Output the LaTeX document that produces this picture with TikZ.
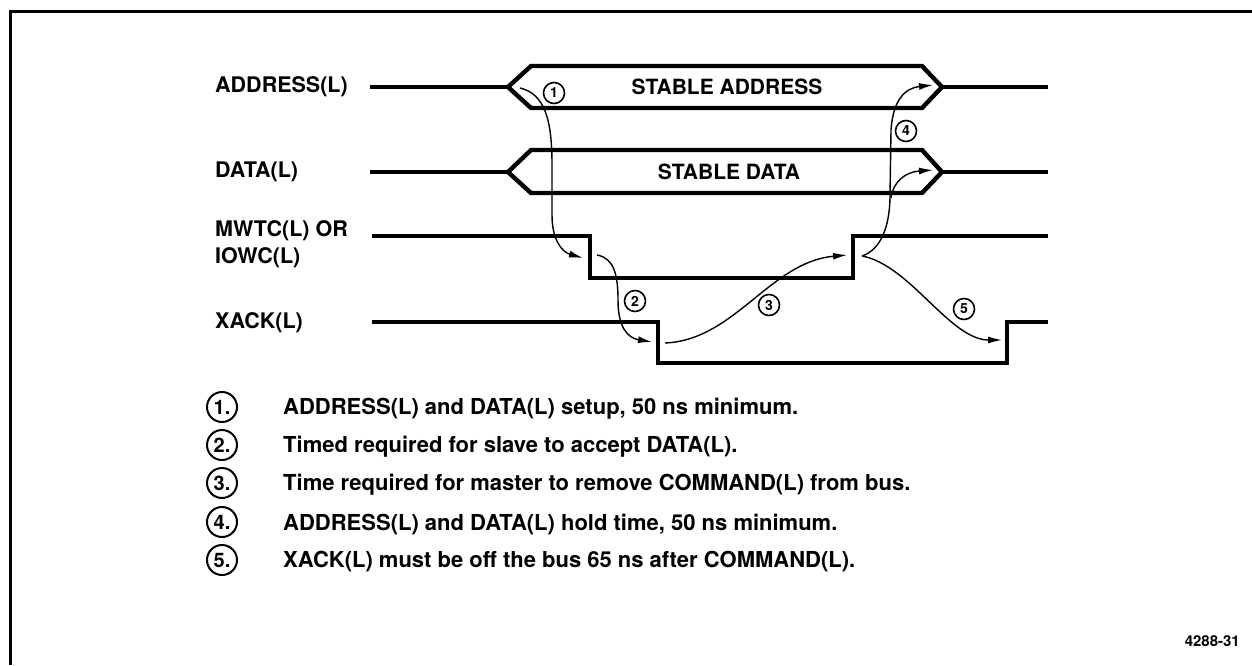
\documentclass[tikz,border=0pt]{standalone}
\usepackage{fontspec}
\setmainfont{TeX Gyre Heros}
\usetikzlibrary{arrows.meta}
\begin{document}
\begin{tikzpicture}[x=1pt,y=-1pt,
  sig/.style={line width=4.4pt, line join=miter, line cap=butt},
  arr/.style={line width=1.4pt, -{Latex[length=14pt,width=7pt]}},
  lbl/.style={font=\fontsize{21.5}{24}\selectfont\bfseries, anchor=west, inner sep=0pt},
  bustxt/.style={font=\fontsize{21}{24}\selectfont\bfseries, inner sep=0pt},
  num/.style={circle, draw, line width=1.6pt, inner sep=0pt, minimum size=21pt, font=\fontsize{14}{14}\selectfont\bfseries},
  lnum/.style={circle, draw, line width=2pt, inner sep=0pt, minimum size=30pt, font=\fontsize{20}{20}\selectfont\bfseries},
  legtxt/.style={font=\fontsize{22}{24}\selectfont\bfseries, anchor=west, inner sep=0pt},
]
\useasboundingbox (0,0) rectangle (1252,665);
% frame
\draw[line width=3pt] (10,665) -- (10,11) -- (1252,11);

% signal labels
\node[lbl] (lA) at (215,87) {ADDRESS(L)};
\node[lbl] (lD) at (215,172) {DATA(L)};
\node[lbl] (lM) at (215,231) {MWTC(L) OR};
\node[lbl] (lI) at (215,258) {IOWC(L)};
\node[lbl] (lX) at (215,323) {XACK(L)};

% ADDRESS bus
\draw[sig] (370,87) -- (508,87);
\draw[sig] (508,87) -- (531,66) -- (922,66) -- (942,87) -- (922,108) -- (531,108) -- cycle;
\draw[sig] (942,87) -- (1048,87);
\node[bustxt] (sA) at (727,87) {STABLE ADDRESS};

% DATA bus
\draw[sig] (370,172) -- (508,172);
\draw[sig] (508,172) -- (531,150) -- (922,150) -- (942,172) -- (922,193) -- (531,193) -- cycle;
\draw[sig] (942,172) -- (1048,172);
\node[bustxt] (sD) at (729,172) {STABLE DATA};

% MWTC / IOWC
\draw[sig] (372,236) -- (590,236) -- (590,278) -- (853,278) -- (853,236) -- (1048,236);
% XACK
\draw[sig] (372,322) -- (658,322) -- (658,363) -- (1007,363) -- (1007,322) -- (1048,322);

% arrow end points
\coordinate (a1s) at (520,88);
\coordinate (a1e) at (583,258);
\coordinate (a2s) at (597,255);
\coordinate (a2e) at (652,342);
\coordinate (a3s) at (665,343);
\coordinate (a3e) at (847,255);
\coordinate (a4s) at (862,256);
\coordinate (a4e) at (933,85);
\coordinate (a4b) at (891,198);
\coordinate (a4f) at (933,170);
\coordinate (a5e) at (1002,340);

% arrows
\draw[arr] (a1s) .. controls (545,94) and (552,120) .. (552,165) -- (552,215) .. controls (552,240) and (562,252) .. (a1e);
\draw[arr] (a2s) .. controls (614,258) and (618,275) .. (618,300) .. controls (618,328) and (628,338) .. (a2e);
\draw[arr] (a3s) .. controls (735,340) and (770,262) .. (a3e);
\draw[arr] (a4s) .. controls (880,250) and (890,228) .. (890,195) -- (891,130) .. controls (893,100) and (905,88) .. (a4e);
\draw[arr] (a4b) .. controls (893,182) and (905,172) .. (a4f);
\draw[arr] (a4s) .. controls (910,265) and (950,340) .. (a5e);

% small circled numbers
\node[num] (c1) at (554,93) {1};
\node[num] (c2) at (635,301) {2};
\node[num] (c3) at (769,305) {3};
\node[num] (c4) at (906,131) {4};
\node[num] (c5) at (964,309) {5};

% legend
\node[lnum] (n1) at (222,407) {1.};
\node[lnum] (n2) at (222,445) {2.};
\node[lnum] (n3) at (222,483) {3.};
\node[lnum] (n4) at (222,522) {4.};
\node[lnum] (n5) at (222,560) {5.};
\node[legtxt] (t1) at (283,409) {ADDRESS(L) and DATA(L) setup, 50 ns minimum.};
\node[legtxt] (t2) at (283,447) {Timed required for slave to accept DATA(L).};
\node[legtxt] (t3) at (283,485) {Time required for master to remove COMMAND(L) from bus.};
\node[legtxt] (t4) at (283,524) {ADDRESS(L) and DATA(L) hold time, 50 ns minimum.};
\node[legtxt] (t5) at (283,562) {XACK(L) must be off the bus 65 ns after COMMAND(L).};

\node[font=\fontsize{15}{15}\selectfont\bfseries, anchor=east, inner sep=0pt] (fig) at (1240,641) {4288-31};
\end{tikzpicture}
\end{document}
